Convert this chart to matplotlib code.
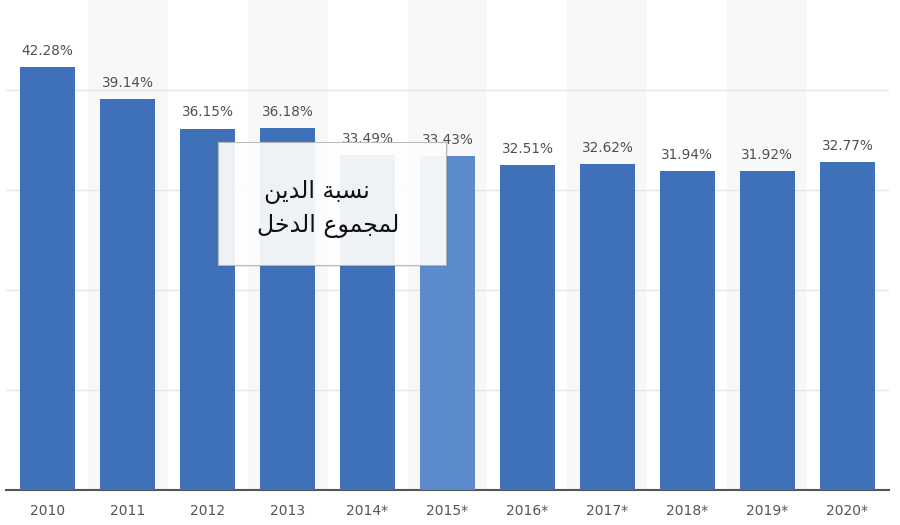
import matplotlib
matplotlib.use("Agg")
import matplotlib.pyplot as plt
from matplotlib.patches import Rectangle

years = ["2010", "2011", "2012", "2013", "2014*", "2015*", "2016*", "2017*", "2018*", "2019*", "2020*"]
values = [42.28, 39.14, 36.15, 36.18, 33.49, 33.43, 32.51, 32.62, 31.94, 31.92, 32.77]
highlight = "2015*"
box_lines = ["نسبة الدين", "لمجموع الدخل"]

# Minimal Arabic shaping (presentation forms) + RTL reversal for display
FORMS = {
    'ا': (0xFE8D, 0xFE8E, None, None),
    'ب': (0xFE8F, 0xFE90, 0xFE91, 0xFE92),
    'ة': (0xFE93, 0xFE94, None, None),
    'ج': (0xFE9D, 0xFE9E, 0xFE9F, 0xFEA0),
    'خ': (0xFEA5, 0xFEA6, 0xFEA7, 0xFEA8),
    'د': (0xFEA9, 0xFEAA, None, None),
    'س': (0xFEB1, 0xFEB2, 0xFEB3, 0xFEB4),
    'ع': (0xFEC9, 0xFECA, 0xFECB, 0xFECC),
    'ل': (0xFEDD, 0xFEDE, 0xFEDF, 0xFEE0),
    'م': (0xFEE1, 0xFEE2, 0xFEE3, 0xFEE4),
    'ن': (0xFEE5, 0xFEE6, 0xFEE7, 0xFEE8),
    'و': (0xFEED, 0xFEEE, None, None),
    'ي': (0xFEF1, 0xFEF2, 0xFEF3, 0xFEF4),
}

def shape(s):
    out = []
    for i, c in enumerate(s):
        if c not in FORMS:
            out.append(c)
            continue
        prev = s[i - 1] if i > 0 else None
        nxt = s[i + 1] if i + 1 < len(s) else None
        jp = prev in FORMS and FORMS[prev][2] is not None
        jn = nxt in FORMS and FORMS[c][2] is not None
        iso, fin, ini, med = FORMS[c]
        if jp and jn:
            cp = med
        elif jp:
            cp = fin
        elif jn:
            cp = ini
        else:
            cp = iso
        out.append(chr(cp))
    return ''.join(reversed(out))

plt.rcParams['font.family'] = ['DejaVu Sans']

fig = plt.figure(figsize=(9, 5.25), dpi=100)
fig.patch.set_facecolor('white')
ax = fig.add_axes([6 / 900, 35 / 525, 883 / 900, 490 / 525])

x = list(range(len(years)))
for i in x:
    if i % 2 == 1:
        ax.axvspan(i - 0.5, i + 0.5, color='#f8f8f8', zorder=0, lw=0)

colors = ['#5b8bcc' if y == highlight else '#3f71b8' for y in years]
ax.bar(x, values, width=0.69, color=colors, zorder=3)

for i, v in zip(x, values):
    ax.text(i, v + 0.9, f"{v:.2f}%", ha='center', va='bottom', fontsize=9.8,
            color='#505050', zorder=4)

ax.set_xlim(-0.52, len(years) - 0.48)
ax.set_ylim(0, 49)
ax.set_yticks([10, 20, 30, 40])
ax.yaxis.grid(True, color='#e6e6e6', lw=1, zorder=1)
ax.set_axisbelow(True)
ax.tick_params(axis='y', left=False, labelleft=False)
ax.set_xticks(x)
ax.set_xticklabels(years, fontsize=10, color='#555555')
ax.tick_params(axis='x', length=0, pad=10)
for s in ['top', 'right', 'left']:
    ax.spines[s].set_visible(False)
ax.spines['bottom'].set_color('#555555')
ax.spines['bottom'].set_linewidth(1.5)
ax.set_facecolor('none')

# overlay box
bx, by, bw, bh = 218 / 900, 1 - 265 / 525, 228 / 900, 123 / 525
shadow = Rectangle((bx + 2 / 900, by - 2 / 525), bw, bh, transform=fig.transFigure,
                   facecolor='#000000', alpha=0.08, lw=0, zorder=9, clip_on=False)
box = Rectangle((bx, by), bw, bh, transform=fig.transFigure, facecolor='white',
                alpha=0.92, edgecolor='#b8b8b8', lw=0.8, zorder=10, clip_on=False)
ax.add_patch(shadow)
ax.add_patch(box)
ax.text(317 / 900, 1 - 192 / 525, shape(box_lines[0]), transform=fig.transFigure,
        ha='center', va='center', fontsize=17, color='#111111', zorder=11)
ax.text(328 / 900, 1 - 226 / 525, shape(box_lines[1]), transform=fig.transFigure,
        ha='center', va='center', fontsize=17, color='#111111', zorder=11)

fig.savefig('out.png', dpi=100)
